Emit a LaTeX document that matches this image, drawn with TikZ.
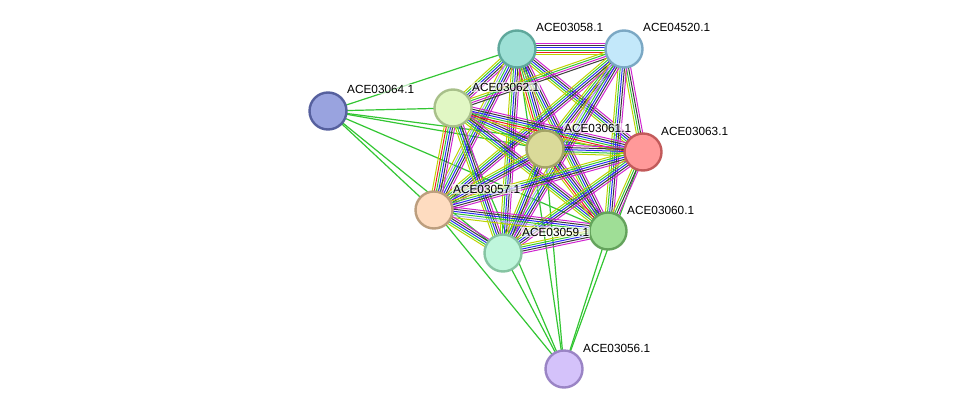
\documentclass[tikz,border=0pt]{standalone}
\usepackage{fontspec}
\setmainfont{Liberation Sans}
\usetikzlibrary{calc}
\definecolor{strgreen}{HTML}{33C633}
\definecolor{strblue}{HTML}{2B2BF5}
\definecolor{strblack}{HTML}{3A3A3A}
\definecolor{strmag}{HTML}{D024D0}
\definecolor{stryel}{HTML}{BCD400}
\definecolor{strred}{HTML}{F02020}
\definecolor{strlav}{HTML}{A8A8F4}
\definecolor{f58}{HTML}{9DE0D6}\definecolor{d58}{HTML}{5FA89C}
\definecolor{f20}{HTML}{C3E8FA}\definecolor{d20}{HTML}{7BA8C4}
\definecolor{f64}{HTML}{99A3DF}\definecolor{d64}{HTML}{56609E}
\definecolor{f62}{HTML}{E1F7C4}\definecolor{d62}{HTML}{A8C08A}
\definecolor{f61}{HTML}{DADA99}\definecolor{d61}{HTML}{A3A366}
\definecolor{f63}{HTML}{FF9999}\definecolor{d63}{HTML}{C25A5A}
\definecolor{f57}{HTML}{FEDCC0}\definecolor{d57}{HTML}{BC9E7E}
\definecolor{f60}{HTML}{9FDE96}\definecolor{d60}{HTML}{64A35C}
\definecolor{f59}{HTML}{BFF6DC}\definecolor{d59}{HTML}{86C4A2}
\definecolor{f56}{HTML}{D4C2FA}\definecolor{d56}{HTML}{9A84C5}
\def\setA{stryel,strgreen,strblue,strblack,strmag}
\def\setB{stryel,strred,strgreen,strblue,strblack,strmag}
\def\setC{stryel,strgreen,strblack,strmag}
\def\setD{stryel,strlav,strgreen,strblue,strblack,strmag}
\def\setE{stryel,strgreen,strmag,strblack}
\newcommand\bundle[3]{%
  \foreach \c [count=\i] in #3 {\xdef\nbund{\i}}%
  \foreach \c [count=\i] in #3 {%
    \pgfmathsetmacro\off{(\i-(\nbund+1)/2)*2.1}%
    \draw[\c, edgeline] ($(#1)!\off pt!90:(#2)$) -- ($(#2)!\off pt!-90:(#1)$);
  }}
\tikzset{
  edgeline/.style={line width=1pt},
  greenedge/.style={strgreen, line width=1.2pt},
  prot/.style={circle, minimum size=37pt, inner sep=0pt, line width=2.4pt},
  lab/.style={anchor=west, font=\fontsize{11.8}{13}\selectfont, inner sep=1pt, fill=white, fill opacity=0.65, text opacity=1},
}
\begin{document}
\begin{tikzpicture}[x=1pt,y=-1pt]
\useasboundingbox (0,0) rectangle (976,415);
\coordinate (c58) at (517,49);
\coordinate (c20) at (624,49);
\coordinate (c64) at (328,111);
\coordinate (c62) at (453,108);
\coordinate (c61) at (545,149);
\coordinate (c63) at (643,152);
\coordinate (c57) at (434,210);
\coordinate (c60) at (608,231);
\coordinate (c59) at (503,253);
\coordinate (c56) at (564,369);
% single green edges
\foreach \t in {c58,c62,c61,c63,c60,c57,c59}
  \draw[greenedge] (c64) -- (\t);
\foreach \t in {c57,c59,c62,c58,c61,c60,c63}
  \draw[greenedge] (c56) -- (\t);
% core bundles
\bundle{c58}{c20}{\setB}
\bundle{c58}{c62}{\setA}
\bundle{c58}{c61}{\setB}
\bundle{c58}{c63}{\setA}
\bundle{c58}{c57}{\setD}
\bundle{c58}{c60}{\setA}
\bundle{c58}{c59}{\setA}
\bundle{c20}{c62}{\setE}
\bundle{c20}{c61}{\setA}
\bundle{c20}{c63}{\setC}
\bundle{c20}{c57}{\setA}
\bundle{c20}{c60}{\setA}
\bundle{c20}{c59}{\setD}
\bundle{c62}{c61}{\setA}
\bundle{c62}{c63}{\setB}
\bundle{c62}{c57}{\setB}
\bundle{c62}{c60}{\setA}
\bundle{c62}{c59}{\setA}
\bundle{c61}{c63}{\setA}
\bundle{c61}{c57}{\setA}
\bundle{c61}{c60}{\setB}
\bundle{c61}{c59}{\setA}
\bundle{c63}{c57}{\setA}
\bundle{c63}{c60}{\setC}
\bundle{c63}{c59}{\setA}
\bundle{c57}{c60}{\setD}
\bundle{c57}{c59}{\setA}
\bundle{c60}{c59}{\setA}
% nodes
\foreach \n in {58,20,64,62,61,63,57,60,59,56}
  \node[prot, fill=f\n, draw=d\n] (n\n) at (c\n) {};
% labels
\node[lab] (l58) at (535,27) {ACE03058.1};
\node[lab] (l20) at (642,27) {ACE04520.1};
\node[lab] (l64) at (346,89) {ACE03064.1};
\node[lab] (l62) at (471,87) {ACE03062.1};
\node[lab] (l61) at (563,128) {ACE03061.1};
\node[lab] (l63) at (660,131) {ACE03063.1};
\node[lab] (l57) at (452,189) {ACE03057.1};
\node[lab] (l60) at (626,210) {ACE03060.1};
\node[lab] (l59) at (521,232) {ACE03059.1};
\node[lab] (l56) at (582,348) {ACE03056.1};
\end{tikzpicture}
\end{document}
